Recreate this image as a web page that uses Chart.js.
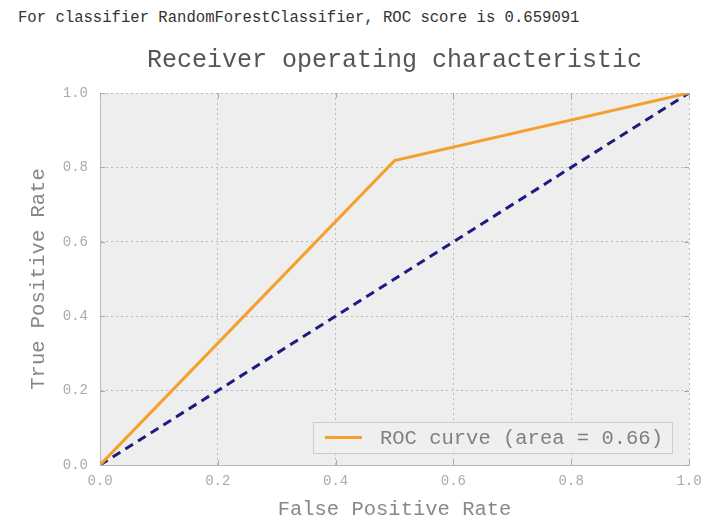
<!DOCTYPE html>
<html>
<head>
<meta charset="utf-8">
<script src="https://cdn.jsdelivr.net/npm/chart.js@4"></script>
<style>
  body { margin: 0; background: #fff; }
  #wrap { position: relative; width: 720px; height: 522px; }
  #note { position: absolute; left: 18px; top: 9px; font: 15.6px "Liberation Mono", monospace; color: #333; white-space: pre; }
  canvas { position: absolute; left: 0; top: 0; }
</style>
</head>
<body>
<div id="wrap">
  <div id="note">For classifier RandomForestClassifier, ROC score is 0.659091</div>
  <canvas id="roc" width="720" height="522"></canvas>
</div>
<script>
// roc curve points
const fpr = [0.0, 0.5, 1.0];
const tpr = [0.0, 0.818182, 1.0];
const chanceX = [0.0, 1.0];
const chanceY = [0.0, 1.0];
const tickValues = [0.0, 0.2, 0.4, 0.6, 0.8, 1.0];
const rocLabel = 'ROC curve (area = 0.66)';

const mono = '"Liberation Mono", "DejaVu Sans Mono", monospace';

const plotBg = {
  id: 'plotBg',
  beforeDraw(chart) {
    const { ctx, chartArea: a } = chart;
    ctx.save();
    ctx.fillStyle = '#eeeeee';
    ctx.fillRect(a.left, a.top, a.right - a.left, a.bottom - a.top);
    ctx.restore();
  }
};

// small inward tick marks on the axes edges
const edgeTicks = {
  id: 'edgeTicks',
  afterDatasetsDraw(chart) {
    const { ctx, chartArea: a, scales } = chart;
    ctx.save();
    ctx.strokeStyle = '#aaaaaa';
    ctx.lineWidth = 1;
    ctx.beginPath();
    tickValues.forEach(v => {
      const px = Math.round(scales.x.getPixelForValue(v)) + 0.5;
      ctx.moveTo(px, a.bottom); ctx.lineTo(px, a.bottom - 5);
      ctx.moveTo(px, a.top); ctx.lineTo(px, a.top + 5);
      const py = Math.round(scales.y.getPixelForValue(v)) + 0.5;
      ctx.moveTo(a.left, py); ctx.lineTo(a.left + 5, py);
      ctx.moveTo(a.right, py); ctx.lineTo(a.right - 5, py);
    });
    ctx.stroke();
    ctx.restore();
  }
};

// legend in the lower right corner of the axes
const cornerLegend = {
  id: 'cornerLegend',
  afterDatasetsDraw(chart) {
    const { ctx, chartArea: a } = chart;
    const ds = chart.data.datasets[0];
    const w = 359, h = 31;
    const x = a.right - 17 - w, y = a.bottom - 12 - h;
    ctx.save();
    ctx.fillStyle = 'rgba(238,238,238,0.9)';
    ctx.strokeStyle = '#cccccc';
    ctx.lineWidth = 1;
    ctx.fillRect(x, y, w, h);
    ctx.strokeRect(x + 0.5, y + 0.5, w, h);
    ctx.strokeStyle = ds.borderColor;
    ctx.lineWidth = 3;
    ctx.beginPath();
    ctx.moveTo(x + 12, y + h / 2);
    ctx.lineTo(x + 49, y + h / 2);
    ctx.stroke();
    ctx.fillStyle = '#808080';
    ctx.font = '20.5px ' + mono;
    ctx.textBaseline = 'middle';
    ctx.fillText(ds.label, x + 67, y + h / 2 + 1);
    ctx.restore();
  }
};

const gridOpts = {
  color: '#bbbbbb',
  lineWidth: 1,
  drawTicks: false
};

new Chart(document.getElementById('roc'), {
  type: 'line',
  data: {
    datasets: [
      {
        label: rocLabel,
        data: fpr.map((v, i) => ({ x: v, y: tpr[i] })),
        borderColor: '#f5a02c',
        borderWidth: 3,
        pointRadius: 0,
        tension: 0
      },
      {
        label: 'chance',
        data: chanceX.map((v, i) => ({ x: v, y: chanceY[i] })),
        borderColor: '#1c1c80',
        borderWidth: 3,
        borderDash: [9, 6],
        pointRadius: 0,
        tension: 0
      }
    ]
  },
  options: {
    responsive: false,
    animation: false,
    layout: { padding: { left: 0, right: 31, top: 0, bottom: 0 } },
    plugins: {
      legend: { display: false },
      tooltip: { enabled: false },
      title: {
        display: true,
        fullSize: false,
        text: 'Receiver operating characteristic',
        color: '#555',
        font: { family: mono, size: 25, weight: 'normal' },
        padding: { top: 45, bottom: 18 }
      }
    },
    scales: {
      x: {
        type: 'linear',
        min: 0, max: 1,
        afterFit(s) { s.height = 57; },
        afterBuildTicks(s) { s.ticks = tickValues.map(v => ({ value: v })); },
        ticks: {
          color: '#aaa',
          font: { family: mono, size: 14 },
          padding: 8,
          callback: v => v.toFixed(1)
        },
        grid: { ...gridOpts },
        border: { color: '#bbbbbb', dash: [2, 3] },
        title: {
          display: true,
          text: 'False Positive Rate',
          color: '#888',
          font: { family: mono, size: 20.5 },
          padding: { top: 2, bottom: 0 }
        }
      },
      y: {
        type: 'linear',
        min: 0, max: 1,
        afterFit(s) { s.width = 100; },
        afterBuildTicks(s) { s.ticks = tickValues.map(v => ({ value: v })); },
        ticks: {
          color: '#aaa',
          font: { family: mono, size: 14 },
          padding: 12,
          callback: v => v.toFixed(1)
        },
        grid: { ...gridOpts },
        border: { color: '#bbbbbb', dash: [2, 3] },
        title: {
          display: true,
          text: 'True Positive Rate',
          color: '#888',
          font: { family: mono, size: 20.5 },
          padding: { top: 26, bottom: 8 }
        }
      }
    }
  },
  plugins: [plotBg, edgeTicks, cornerLegend]
});
</script>
</body>
</html>
